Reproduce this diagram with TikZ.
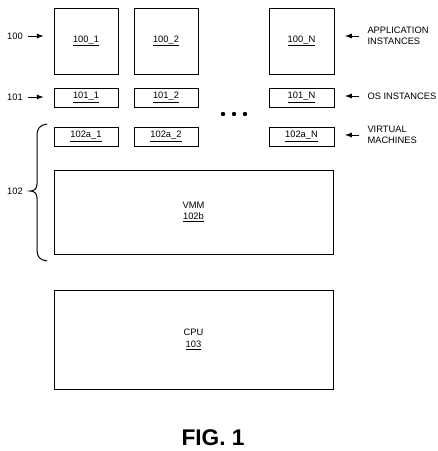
\documentclass[tikz,border=0pt]{standalone}
\usepackage{fontspec}
\setmainfont{Liberation Sans}
\usetikzlibrary{positioning}

\tikzset{every picture/.style={line width=0.75pt}}
\tikzset{
  blk/.style={draw, inner sep=0pt, align=center, font=\fontsize{7}{8.5}\selectfont},
  lbl/.style={inner sep=0.75pt, align=left, font=\fontsize{7}{8.5}\selectfont},
  ptr/.style={-latex, line width=0.75pt},
}

\begin{document}
\begin{tikzpicture}[x=0.75pt,y=0.75pt,yscale=-1,xscale=1]
\useasboundingbox (0,0) rectangle (437,451);

% application instances
\node [blk, minimum width=48pt, minimum height=49.5pt] (app1) at (86,41) {\underline{100\_1}};
\node [blk, minimum width=48pt, minimum height=49.5pt] (app2) at (166,41) {\underline{100\_2}};
\node [blk, minimum width=48.75pt, minimum height=49.5pt] (appN) at (301.5,41) {\underline{100\_N}};

% os instances
\node [blk, minimum width=48pt, minimum height=14.25pt] (os1) at (86,97.5) {\underline{101\_1}};
\node [blk, minimum width=48pt, minimum height=14.25pt] (os2) at (166,97.5) {\underline{101\_2}};
\node [blk, minimum width=48.75pt, minimum height=14.25pt] (osN) at (301.5,97.5) {\underline{101\_N}};

% virtual machines
\node [blk, minimum width=48pt, minimum height=14.25pt] (vm1) at (86,136.5) {\underline{102a\_1}};
\node [blk, minimum width=48pt, minimum height=14.25pt] (vm2) at (166,136.5) {\underline{102a\_2}};
\node [blk, minimum width=48.75pt, minimum height=14.25pt] (vmN) at (301.5,136.5) {\underline{102a\_N}};

% vmm and cpu
\node [blk, minimum width=209.25pt, minimum height=63pt] (vmm) at (193.5,212) {VMM\\\underline{102b}};
\node [blk, minimum width=209.25pt, minimum height=74.25pt] (cpu) at (193.5,339.5) {CPU\\\underline{103}};

% dots
\fill (223,114) circle (2.2) (234,114) circle (2.2) (245,114) circle (2.2);

% left reference labels
\node [lbl] (r100) at (15,36) {100};
\node [lbl] (r101) at (15,97) {101};
\node [lbl] (r102) at (15,191) {102};
\draw [ptr, shorten <=3pt, shorten >=7.5pt] (r100.east) -- (r100.east -| app1.west);
\draw [ptr, shorten <=3pt, shorten >=7.5pt] (r101.east) -- (r101.east -| os1.west);

% brace
\draw (47,124) .. controls (40,125) and (37,128) .. (37,136) -- (37,184) .. controls (37,189) and (34,191) .. (30,191) .. controls (34,191) and (37,193) .. (37,198) -- (37,250) .. controls (37,257) and (40,260) .. (47,261);

% right labels
\node [lbl, anchor=west] (tApp) at (366,36) {APPLICATION\\INSTANCES};
\node [lbl, anchor=west] (tOs) at (366,96) {OS INSTANCES};
\node [lbl, anchor=west] (tVm) at (366,135) {VIRTUAL\\MACHINES};
\draw [ptr, shorten <=5pt, shorten >=8pt] (tApp.west) -- (tApp.west -| appN.east);
\draw [ptr, shorten <=5pt, shorten >=8pt] (tOs.west) -- (tOs.west -| osN.east);
\draw [ptr, shorten <=5pt, shorten >=8pt] (tVm.west) -- (tVm.west -| vmN.east);

% caption
\node [inner sep=0pt, font=\fontsize{17}{19}\selectfont\bfseries] (fig) at (213,438) {FIG. 1};

\end{tikzpicture}
\end{document}
